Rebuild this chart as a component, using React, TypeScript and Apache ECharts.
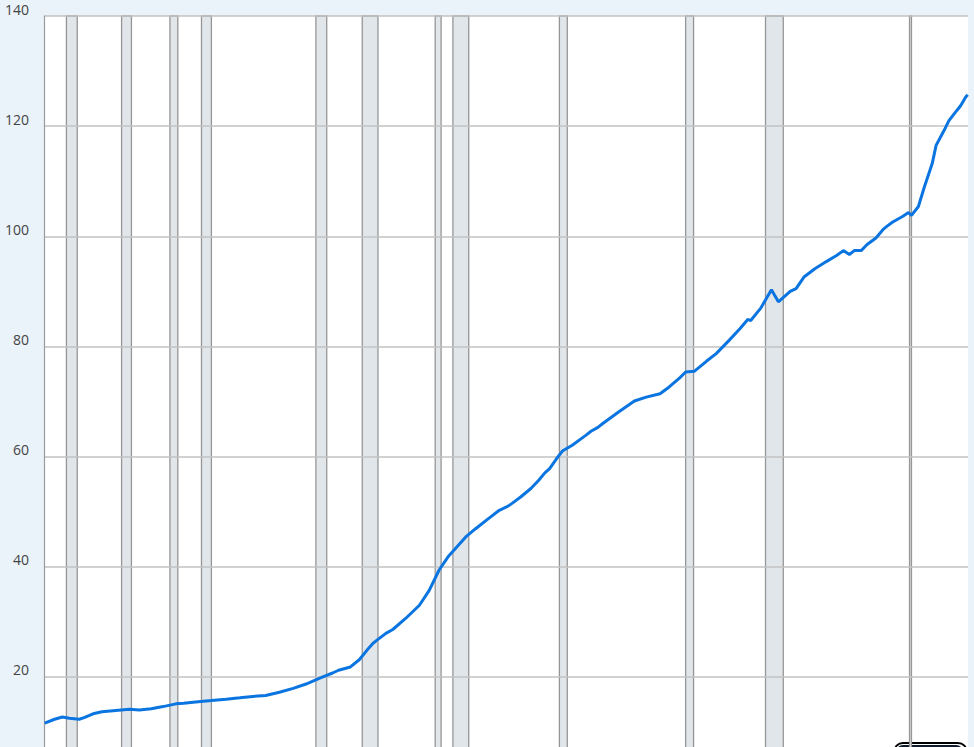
import { useEffect, useRef } from "react";
import * as echarts from "echarts";

const obsDates = [
  "1947-01", "1947-11", "1948-07", "1949-02", "1949-12", "1950-05", "1951-02", "1951-11",
  "1953-01", "1954-03", "1955-01", "1956-01", "1957-01", "1958-02", "1958-10", "1959-10",
  "1961-02", "1962-05", "1963-07", "1964-08", "1965-09", "1966-11", "1968-01", "1969-02",
  "1970-04", "1971-05", "1971-11", "1972-11", "1973-08", "1974-06", "1974-10", "1975-03",
  "1975-11", "1976-06", "1977-07", "1978-09", "1979-07", "1980-05", "1981-02", "1981-10",
  "1982-08", "1983-06", "1984-06", "1985-06", "1986-03", "1986-07", "1987-04", "1988-02",
  "1988-10", "1989-04", "1989-09", "1990-04", "1990-10", "1991-08", "1992-10", "1993-03",
  "1993-10", "1994-03", "1995-07", "1996-11", "1997-11", "1999-01", "1999-10", "2000-09",
  "2001-03", "2001-12", "2002-12", "2003-10", "2004-11", "2005-10", "2006-06", "2006-09",
  "2007-07", "2008-06", "2009-01", "2010-01", "2010-07", "2011-03", "2012-02", "2013-02",
  "2013-12", "2014-07", "2015-01", "2015-06", "2016-01", "2016-07", "2017-04", "2017-11",
  "2018-03", "2018-09", "2019-07", "2020-01", "2020-04", "2020-11", "2021-05", "2022-01",
  "2022-05", "2023-01", "2023-06", "2024-02", "2024-06", "2024-11", "2025-01",
];

const obsValues = [
  11.6, 12.3, 12.7, 12.5, 12.3, 12.6, 13.3, 13.65,
  13.9, 14.1, 14.0, 14.2, 14.6, 15.1, 15.2, 15.45,
  15.7, 15.95, 16.2, 16.45, 16.6, 17.2, 17.9, 18.7,
  19.76, 20.7, 21.2, 21.8, 23.1, 25.3, 26.1, 26.8,
  27.9, 28.6, 30.6, 33.0, 35.7, 39.4, 41.8, 43.4,
  45.4, 46.9, 48.6, 50.25, 51.0, 51.5, 52.7, 54.2,
  55.7, 57.0, 57.8, 59.6, 61.0, 62.05, 63.9, 64.6,
  65.3, 66.0, 68.1, 70.1, 70.8, 71.4, 72.6, 74.3,
  75.35, 75.5, 77.3, 78.7, 81.1, 83.2, 84.9, 84.7,
  86.9, 90.3, 88.1, 90.0, 90.5, 92.6, 94.1, 95.45,
  96.5, 97.4, 96.7, 97.4, 97.4, 98.5, 99.7, 101.2,
  101.8, 102.6, 103.6, 104.3, 103.8, 105.4, 108.9, 113.2,
  116.5, 119.2, 121.0, 122.85, 123.75, 125.3, 125.7,
];

// NBER recessions (peak -> trough)
const recessionStarts = [
  "1948-11-01", "1953-07-01", "1957-08-01", "1960-04-01", "1969-12-01", "1973-11-01",
  "1980-01-01", "1981-07-01", "1990-07-01", "2001-03-01", "2007-12-01", "2020-02-01",
];
const recessionEnds = [
  "1949-10-01", "1954-05-01", "1958-04-01", "1961-02-01", "1970-11-01", "1975-03-01",
  "1980-07-01", "1982-11-01", "1991-03-01", "2001-11-01", "2009-06-01", "2020-04-01",
];

const yTicks = { min: 0, max: 140, interval: 20 };

export default function App() {
  const ref = useRef<HTMLDivElement>(null);

  useEffect(() => {
    if (!ref.current) return;
    const chart = echarts.init(ref.current, undefined, { renderer: "svg" });

    const data = obsDates.map((d, i) => [d + "-01", obsValues[i]]);
    const areas = recessionStarts.map((s, i) => [
      { xAxis: s },
      { xAxis: recessionEnds[i] },
    ]);

    chart.setOption({
      animation: false,
      backgroundColor: "#eaf2fa",
      grid: {
        left: 44,
        right: 6,
        top: 16,
        bottom: 43,
        show: true,
        backgroundColor: "#ffffff",
        borderWidth: 0,
      },
      xAxis: {
        type: "time",
        min: "1946-12-10",
        max: "2025-01-10",
        axisLine: { show: false },
        axisTick: { show: false },
        axisLabel: { show: false },
        splitLine: { show: false },
      },
      yAxis: {
        type: "value",
        min: yTicks.min,
        max: yTicks.max,
        interval: yTicks.interval,
        z: 2,
        axisLine: { show: true, lineStyle: { color: "#9a9a9a", width: 1.2 } },
        axisTick: { show: false },
        axisLabel: {
          color: "#444444",
          fontFamily: "Open Sans",
          fontSize: 14,
          margin: 15,
          verticalAlign: "bottom",
          lineHeight: 14,
          showMinLabel: false,
        },
        splitLine: { lineStyle: { color: "#c2c2c2", width: 1.5 } },
      },
      series: [
        {
          type: "line",
          z: 1,
          data: [],
          silent: true,
          markArea: {
            silent: true,
            itemStyle: {
              color: "#e1e6eb",
              borderColor: "#969696",
              borderWidth: 1.3,
            },
            data: areas,
          },
        },
        {
          type: "line",
          z: 3,
          data,
          showSymbol: false,
          smooth: false,
          lineStyle: { color: "#0a75e0", width: 3 },
        },
      ],
      graphic: [
        {
          type: "rect",
          left: 893,
          top: 742,
          shape: { width: 73, height: 26, r: 9 },
          style: { fill: "#ffffff", stroke: "#000000", lineWidth: 2 },
        },
        {
          type: "rect",
          left: 896,
          top: 745,
          shape: { width: 67, height: 22, r: 7 },
          style: { fill: "#0c1a2c" },
        },
      ],
    });

    return () => chart.dispose();
  }, []);

  return (
    <div
      ref={ref}
      style={{ position: "absolute", left: 0, top: 0, width: 974, height: 830 }}
    />
  );
}
